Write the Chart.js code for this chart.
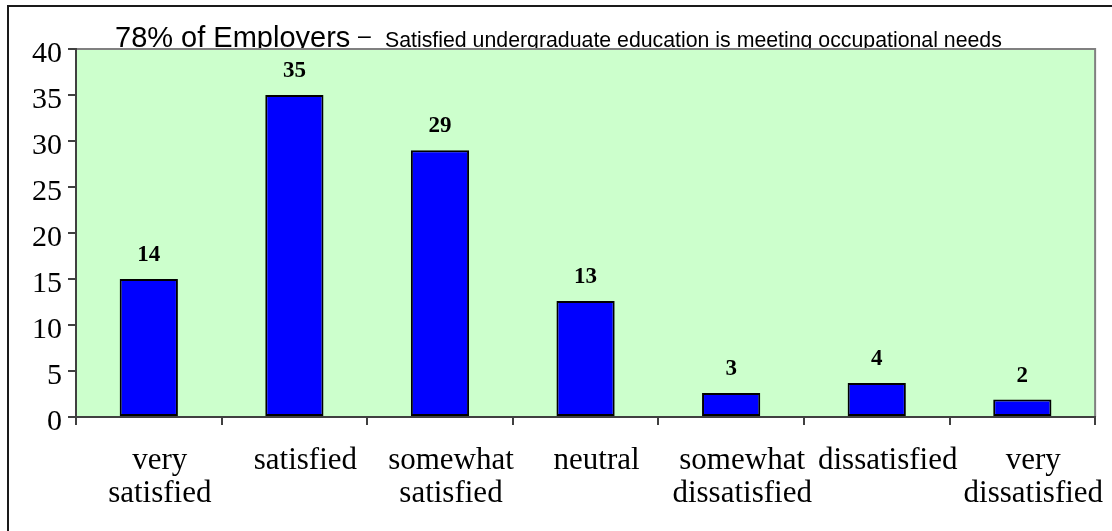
<!DOCTYPE html>
<html>
<head>
<meta charset="utf-8">
<script src="https://cdn.jsdelivr.net/npm/chart.js@4/dist/chart.umd.min.js"></script>
<style>
  html, body { margin: 0; padding: 0; background: #fff; overflow: hidden; }
  #frame { position: absolute; left: 7px; top: 5px; width: 1300px; height: 700px;
           border-left: 2px solid #1a1a1a; border-top: 2px solid #1a1a1a; }
  #wrap { position: absolute; left: 0; top: 0; width: 1112px; height: 531px; }
</style>
</head>
<body>
<div id="frame"></div>
<div id="wrap"><canvas id="out" width="1112" height="531"></canvas></div>
<script>
// categories (two-line ones split into arrays)
const categories = [
  ["very", "satisfied"],
  "satisfied",
  ["somewhat", "satisfied"],
  "neutral",
  ["somewhat", "dissatisfied"],
  "dissatisfied",
  ["very", "dissatisfied"]
];
// bar heights as drawn
const percents = [15, 35, 29, 12.6, 2.6, 3.7, 1.9];
// numbers printed above the bars
const barLabels = ["14", "35", "29", "13", "3", "4", "2"];
const yTicks = [0, 5, 10, 15, 20, 25, 30, 35, 40];

const titleBig = "78% of Employers";
const titleSmall = "Satisfied undergraduate education is meeting occupational needs";

// title behind the green plot area, then the plot area itself
const plotBack = {
  id: "plotBack",
  beforeDraw(chart) {
    const ctx = chart.ctx;
    const a = chart.chartArea;
    ctx.save();
    ctx.fillStyle = "#000";
    ctx.textBaseline = "alphabetic";
    ctx.font = "29px 'Liberation Sans', Arial, sans-serif";
    ctx.fillText(titleBig, 115, 47);
    ctx.font = "23px 'Liberation Sans', Arial, sans-serif";
    ctx.fillText("\u2013", 358, 43);
    ctx.font = "21.3px 'Liberation Sans', Arial, sans-serif";
    ctx.fillText(titleSmall, 385, 47);

    ctx.fillStyle = "#CCFFCC";
    ctx.fillRect(a.left, a.top, a.right - a.left, a.bottom - a.top);
    ctx.strokeStyle = "#808080";
    ctx.lineWidth = 2;
    ctx.beginPath();
    ctx.moveTo(a.left, a.top);
    ctx.lineTo(a.right, a.top);
    ctx.lineTo(a.right, a.bottom);
    ctx.stroke();
    ctx.restore();
  }
};

const valueLabels = {
  id: "valueLabels",
  afterDatasetsDraw(chart) {
    const ctx = chart.ctx;
    const meta = chart.getDatasetMeta(0);
    ctx.save();
    ctx.fillStyle = "#000";
    ctx.font = "bold 23px 'Liberation Serif', 'Times New Roman', serif";
    ctx.textAlign = "center";
    ctx.textBaseline = "alphabetic";
    meta.data.forEach((bar, i) => {
      ctx.fillText(barLabels[i], bar.x, bar.y - 18);
    });
    ctx.restore();
  }
};

const canvasCtx = document.getElementById("out").getContext("2d");

const chartConfig = {
  type: "bar",
  data: {
    labels: categories,
    datasets: [
      {
        data: percents,
        backgroundColor: "#0000FF",
        borderColor: "#000000",
        borderWidth: 2,
        borderSkipped: false,
        barPercentage: 0.4,
        categoryPercentage: 1
      }
    ]
  },
  options: {
    responsive: false,
    animation: false,
    layout: { padding: { left: 0, top: 49, right: 13, bottom: 0 } },
    plugins: {
      legend: { display: false },
      title: { display: false },
      tooltip: { enabled: false }
    },
    scales: {
      x: {
        offset: true,
        grid: {
          offset: true,
          drawOnChartArea: false,
          drawTicks: true,
          tickLength: 8,
          color: "#404040",
          lineWidth: 2
        },
        border: { display: true, color: "#404040", width: 2 },
        ticks: {
          color: "#000",
          padding: 19,
          labelOffset: 11,
          maxRotation: 0,
          autoSkip: false,
          font: { family: "'Liberation Serif', 'Times New Roman', serif", size: 31, lineHeight: 1.065 }
        },
        afterFit(scale) { scale.height = 114; }
      },
      y: {
        min: 0,
        max: 40,
        afterBuildTicks(scale) { scale.ticks = yTicks.map(v => ({ value: v })); },
        grid: {
          drawOnChartArea: false,
          drawTicks: true,
          tickLength: 8,
          color: "#404040",
          lineWidth: 2
        },
        border: { display: true, color: "#404040", width: 2 },
        ticks: {
          color: "#000",
          padding: 6,
          labelOffset: 5,
          font: { family: "'Liberation Serif', 'Times New Roman', serif", size: 30 }
        },
        afterFit(scale) { scale.width = 76; }
      }
    }
  },
  plugins: [plotBack, valueLabels]
};

window.chart = new Chart(canvasCtx, chartConfig);
</script>
</body>
</html>
